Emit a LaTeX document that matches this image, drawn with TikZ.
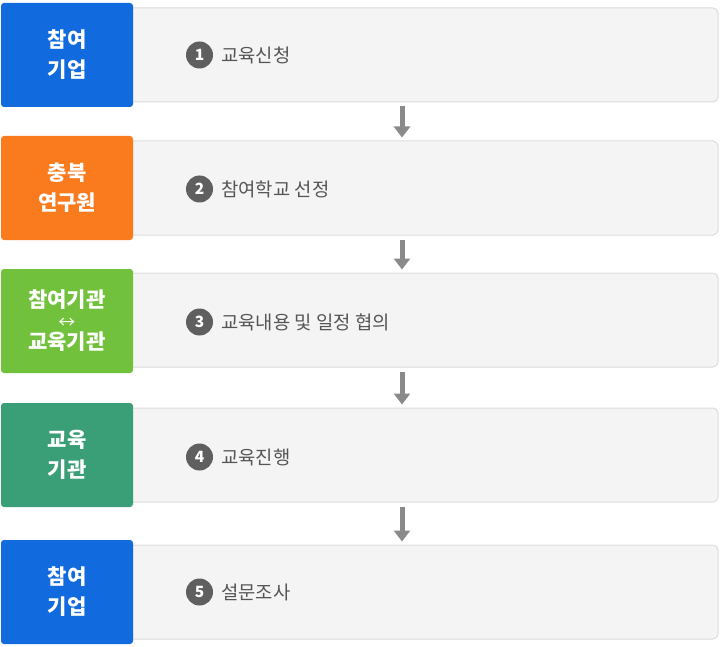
\documentclass[tikz,border=0pt]{standalone}
\usepackage{fontspec}
\setmainfont{Noto Sans CJK KR}
\usetikzlibrary{arrows.meta,positioning}
\definecolor{roleblue}{HTML}{116ADE}
\definecolor{roleorange}{HTML}{FA7A1E}
\definecolor{rolegreen}{HTML}{72C13C}
\definecolor{roleteal}{HTML}{3A9E76}
\definecolor{panelgray}{HTML}{F4F4F4}
\definecolor{panelline}{HTML}{DCDCDC}
\definecolor{numgray}{HTML}{5F5F5F}
\definecolor{textgray}{HTML}{555555}
\definecolor{arrowgray}{HTML}{8A8A8A}
\tikzset{
  rolebox/.style={fill=#1, rounded corners=3pt, minimum width=132pt, minimum height=104pt,
    text=white, font=\bfseries\fontsize{21}{30}\selectfont, align=center, inner sep=0pt},
  panel/.style={fill=panelgray, draw=panelline, line width=1pt, rounded corners=5pt,
    minimum width=590pt, minimum height=94pt, inner sep=0pt},
  stepnum/.style={circle, fill=numgray, text=white, minimum size=27pt, inner sep=0pt,
    font=\bfseries\fontsize{15.5}{15.5}\selectfont},
  steptext/.style={text=textgray, font=\fontsize{18.8}{22}\selectfont, inner sep=0pt},
  flowarrow/.style={draw=arrowgray, line width=5pt, -{Triangle[width=16pt,length=11pt]},
    shorten <=4pt, shorten >=3pt}
}
\begin{document}
\begin{tikzpicture}[x=1pt,y=-1pt]
\useasboundingbox (0,0) rectangle (720,647);
\coordinate (ax) at (402,0); % arrow line
% panels
\node[panel] (p1) at (423,55) {};
\node[panel] (p2) at (423,188) {};
\node[panel] (p3) at (423,320) {};
\node[panel] (p4) at (423,455) {};
\node[panel] (p5) at (423,592) {};
% role boxes
\node[rolebox=roleblue] (r1) at (67,55) {참여\\기업};
\node[rolebox=roleorange] (r2) at (67,188) {충북\\연구원};
\node[rolebox=rolegreen] (r3) at (67,321) {참여기관\\[-9pt]{\mdseries\fontsize{17}{17}\selectfont ↔}\\[-9pt]교육기관};
\node[rolebox=roleteal] (r4) at (67,455) {교육\\기관};
\node[rolebox=roleblue] (r5) at (67,592) {참여\\기업};
% steps
\node[stepnum] (n1) at (199.5,55) {1};
\node[steptext,right=8pt of n1] (t1) {교육신청};
\node[stepnum] (n2) at (199.5,189) {2};
\node[steptext,right=8pt of n2] (t2) {참여학교 선정};
\node[stepnum] (n3) at (199.5,322) {3};
\node[steptext,right=8pt of n3] (t3) {교육내용 및 일정 협의};
\node[stepnum] (n4) at (199.5,457) {4};
\node[steptext,right=8pt of n4] (t4) {교육진행};
\node[stepnum] (n5) at (199.5,592) {5};
\node[steptext,right=8pt of n5] (t5) {설문조사};
% arrows
\draw[flowarrow] (p1.south -| ax) -- (p2.north -| ax);
\draw[flowarrow] (p2.south -| ax) -- (p3.north -| ax);
\draw[flowarrow] (p3.south -| ax) -- (p4.north -| ax);
\draw[flowarrow] (p4.south -| ax) -- (p5.north -| ax);
\end{tikzpicture}
\end{document}
